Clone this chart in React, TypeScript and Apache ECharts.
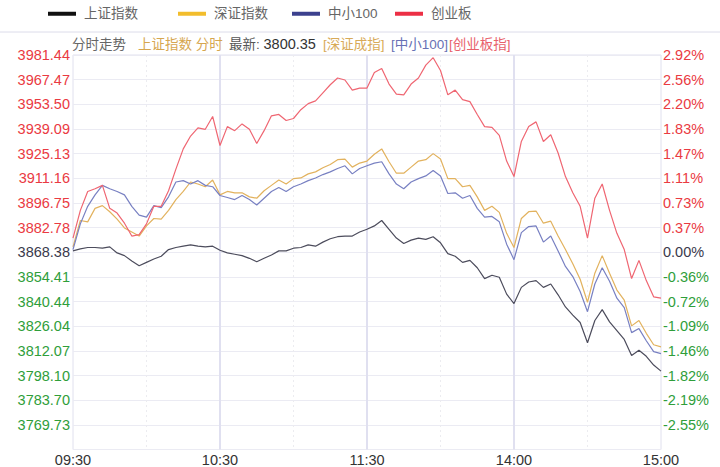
import React, { useEffect, useRef } from "react";
import * as echarts from "echarts";

// ---- data (percent change from previous close, 3-minute samples 09:30 → 15:00) ----
const seriesNames = ["上证指数", "深证指数", "中小100", "创业板"];

const shData = [
  0.02, 0.05, 0.07, 0.07, 0.06, 0.08, -0.01, -0.05, -0.13, -0.2,
  -0.15, -0.1, -0.06, 0.04, 0.07, 0.09, 0.11, 0.09, 0.08, 0.09,
  0.03, -0.01, -0.03, -0.05, -0.09, -0.14, -0.09, -0.04, 0.02, 0.02,
  0.06, 0.07, 0.11, 0.09, 0.15, 0.2, 0.23, 0.24, 0.24, 0.3,
  0.34, 0.39, 0.47, 0.34, 0.21, 0.13, 0.18, 0.21, 0.19, 0.23,
  0.14, -0.02, -0.06, -0.15, -0.12, -0.23, -0.39, -0.34, -0.37, -0.62,
  -0.76, -0.52, -0.44, -0.42, -0.52, -0.47, -0.63, -0.81, -0.93, -1.04,
  -1.34, -1.01, -0.85, -1.03, -1.16, -1.29, -1.53, -1.45, -1.54, -1.67,
  -1.76,
];

const szData = [
  0.08, 0.47, 0.45, 0.65, 0.69, 0.6, 0.49, 0.36, 0.3, 0.24,
  0.39, 0.5, 0.49, 0.62, 0.78, 0.9, 1.04, 1.01, 0.97, 1.07,
  0.85, 0.9, 0.88, 0.88, 0.82, 0.8, 0.91, 0.99, 1.07, 1.01,
  1.09, 1.1, 1.16, 1.19, 1.25, 1.3, 1.37, 1.38, 1.26, 1.32,
  1.35, 1.45, 1.53, 1.34, 1.17, 1.17, 1.26, 1.35, 1.37, 1.46,
  1.38, 1.09, 1.09, 0.97, 0.99, 0.82, 0.62, 0.68, 0.59, 0.28,
  0.07, 0.5, 0.6, 0.61, 0.43, 0.46, 0.24, 0.04, -0.17, -0.4,
  -0.74, -0.31, -0.05, -0.31, -0.56, -0.71, -1.09, -1.01, -1.2, -1.37,
  -1.4,
];

const zxData = [
  0.04, 0.42, 0.68, 0.85, 0.99, 0.94, 0.9, 0.85, 0.68, 0.55,
  0.52, 0.69, 0.66, 0.82, 1.04, 1.06, 1.01, 1.06, 0.99, 0.97,
  0.84, 0.81, 0.78, 0.84, 0.78, 0.7, 0.8, 0.9, 0.96, 0.9,
  0.97, 1.01, 1.06, 1.1, 1.15, 1.19, 1.24, 1.28, 1.16, 1.24,
  1.28, 1.32, 1.34, 1.16, 1.01, 0.94, 1.04, 1.09, 1.13, 1.21,
  1.13, 0.87, 0.88, 0.8, 0.84, 0.65, 0.52, 0.53, 0.45, 0.12,
  -0.11, 0.29, 0.38, 0.39, 0.15, 0.24, 0.02, -0.21, -0.36, -0.58,
  -0.88, -0.47, -0.23, -0.43, -0.68, -0.82, -1.19, -1.13, -1.31, -1.47,
  -1.5,
];

const cyData = [
  0.21, 0.62, 0.9, 0.94, 0.99, 0.65, 0.58, 0.43, 0.24, 0.26,
  0.42, 0.68, 0.68, 0.91, 1.23, 1.53, 1.72, 1.84, 1.82, 2.01,
  1.58, 1.86, 1.8, 1.9, 1.82, 1.61, 1.8, 2.02, 2.04, 1.95,
  1.98, 2.11, 2.2, 2.24, 2.36, 2.48, 2.58, 2.55, 2.4, 2.43,
  2.43, 2.66, 2.72, 2.49, 2.34, 2.33, 2.49, 2.58, 2.77, 2.88,
  2.69, 2.33, 2.4, 2.26, 2.23, 2.04, 1.86, 1.85, 1.73, 1.35,
  1.12, 1.64, 1.86, 1.93, 1.64, 1.74, 1.47, 1.12, 0.88, 0.68,
  0.21, 0.8, 1.01, 0.62, 0.28, 0.04, -0.39, -0.12, -0.42, -0.66,
  -0.68,
];

const leftLabels = [
  "3981.44", "3967.47", "3953.50", "3939.09", "3925.13", "3911.16", "3896.75", "3882.78",
  "3868.38",
  "3854.41", "3840.44", "3826.04", "3812.07", "3798.10", "3783.70", "3769.73", "",
];
const rightLabels = [
  "2.92%", "2.56%", "2.20%", "1.83%", "1.47%", "1.11%", "0.73%", "0.37%",
  "0.00%",
  "-0.36%", "-0.72%", "-1.09%", "-1.46%", "-1.82%", "-2.19%", "-2.55%", "",
];

const latestValue = "3800.35";

// axis range (percent)
const Y_MAX = 2.92;
const Y_STEP = 0.365;

// time categories: 3-minute steps, morning 09:30-11:30 then 13:00-15:00 (11:30 = 13:00)
const STEP_MIN = 3;
function buildTimes(): string[] {
  const out: string[] = [];
  const n = 240 / STEP_MIN;
  for (let i = 0; i <= n; i++) {
    const m = i * STEP_MIN;
    const t = m <= 120 ? 9 * 60 + 30 + m : 13 * 60 + (m - 120);
    const hh = String(Math.floor(t / 60)).padStart(2, "0");
    const mm = String(t % 60).padStart(2, "0");
    out.push(`${hh}:${mm}`);
  }
  return out;
}
const times = buildTimes();
const HOUR_IDX = 60 / STEP_MIN;
const HALF_IDX = 30 / STEP_MIN;

const FONT = "'Liberation Sans', Arial, 'Noto Sans CJK SC', sans-serif";

const lineColors = ["#4c4c5c", "#e2b25e", "#7880c2", "#ef6672"];
const legendColors = ["#111111", "#f2bd2c", "#3c418e", "#ec2f45"];
const legendLefts = [43, 173, 287, 390];

function labelIndex(v: number) {
  return Math.round((Y_MAX - v) / Y_STEP);
}
function richKey(i: number) {
  return i < 8 ? "up" : i === 8 ? "flat" : "down";
}
const axisRich = {
  up: { color: "#ea3a42", fontSize: 14.5, fontFamily: FONT },
  flat: { color: "#3a3a4c", fontSize: 14.5, fontFamily: FONT },
  down: { color: "#2f9e3a", fontSize: 14.5, fontFamily: FONT },
};

export default function App() {
  const ref = useRef<HTMLDivElement>(null);

  useEffect(() => {
    if (!ref.current) return;
    const chart = echarts.init(ref.current, undefined, { renderer: "svg" });
    const datasets = [shData, szData, zxData, cyData];

    const option: any = {
      animation: false,
      backgroundColor: "#ffffff",
      legend: seriesNames.map((name, i) => ({
        data: [{ name, itemStyle: { color: legendColors[i] } }],
        left: legendLefts[i],
        top: 2,
        icon: "rect",
        itemWidth: 28,
        itemHeight: 4,
        selectedMode: false,
        textStyle: { color: "#666", fontSize: 13.5, fontFamily: FONT, padding: [0, 0, 0, 3] },
      })),
      graphic: [
        {
          type: "line",
          shape: { x1: 0, y1: 32, x2: 720, y2: 32 },
          style: { stroke: "#dcdcea", lineWidth: 1 },
        },
        {
          type: "text",
          x: 72,
          y: 44,
          style: { text: "分时走势", fill: "#666", font: `13.5px ${FONT}`, textVerticalAlign: "middle" },
        },
        {
          type: "text",
          x: 138,
          y: 44,
          style: { text: "上证指数 分时", fill: "#d6a650", font: `13.5px ${FONT}`, textVerticalAlign: "middle" },
        },
        {
          type: "text",
          x: 229,
          y: 44,
          style: {
            text: "{a|最新: }{b|" + latestValue + "}",
            font: `13.5px ${FONT}`,
            textVerticalAlign: "middle",
            rich: {
              a: { fill: "#555", font: `13.5px ${FONT}` },
              b: { fill: "#333", font: `14.5px ${FONT}` },
            },
          },
        },
        {
          type: "text",
          x: 323,
          y: 44,
          style: { text: "[深证成指]", fill: "#d8aa58", font: `13.5px ${FONT}`, textVerticalAlign: "middle" },
        },
        {
          type: "text",
          x: 391,
          y: 44,
          style: { text: "[中小100]", fill: "#6870b4", font: `13.5px ${FONT}`, textVerticalAlign: "middle" },
        },
        {
          type: "text",
          x: 449,
          y: 44,
          style: { text: "[创业板指]", fill: "#e8616b", font: `13.5px ${FONT}`, textVerticalAlign: "middle" },
        },
      ],
      grid: {
        left: 73,
        right: 59,
        top: 55,
        bottom: 13,
        show: true,
        borderColor: "#e0e0ee",
        borderWidth: 1,
        backgroundColor: "transparent",
      },
      xAxis: [
        {
          type: "category",
          data: times,
          boundaryGap: false,
          axisLine: { show: false },
          axisTick: { show: false },
          axisLabel: {
            interval: (i: number) => i % HOUR_IDX === 0 && !(i === HOUR_IDX * 2 + HALF_IDX),
            color: "#333",
            fontSize: 14.5,
            fontFamily: FONT,
            margin: 3,
            showMinLabel: true,
            showMaxLabel: true,
            formatter: (v: string, i: number) => {
              // label each hour of trading (09:30, 10:30, 11:30, 14:00, 15:00)
              return i % HOUR_IDX === 0 ? v : "";
            },
          },
          splitLine: {
            show: true,
            interval: (i: number) => i % HOUR_IDX === 0 && i > 0 && i < times.length - 1,
            lineStyle: { color: "#e0e0f0", width: 2 },
          },
        },
        {
          type: "category",
          data: times,
          boundaryGap: false,
          position: "top",
          axisLine: { show: false },
          axisTick: { show: false },
          axisLabel: { show: false },
          splitLine: {
            show: true,
            interval: (i: number) => i % HALF_IDX === 0 && i % HOUR_IDX !== 0,
            lineStyle: { color: "#ececf0", width: 1, type: [2, 3] },
          },
        },
      ],
      yAxis: [
        {
          type: "value",
          position: "left",
          min: -Y_MAX,
          max: Y_MAX,
          interval: Y_STEP,
          axisLine: { show: false },
          axisTick: { show: false },
          splitLine: { show: true, lineStyle: { color: "#ebebf3", width: 1 } },
          axisLabel: {
            margin: 3,
            rich: axisRich,
            formatter: (v: number) => {
              const i = labelIndex(v);
              const t = leftLabels[i] ?? "";
              return t ? `{${richKey(i)}|${t}}` : "";
            },
          },
        },
        {
          type: "value",
          position: "right",
          min: -Y_MAX,
          max: Y_MAX,
          interval: Y_STEP,
          axisLine: { show: false },
          axisTick: { show: false },
          splitLine: { show: false },
          axisLabel: {
            margin: 2,
            rich: axisRich,
            formatter: (v: number) => {
              const i = labelIndex(v);
              const t = rightLabels[i] ?? "";
              return t ? `{${richKey(i)}|${t}}` : "";
            },
          },
        },
      ],
      series: seriesNames.map((name, i) => ({
        name,
        type: "line",
        xAxisIndex: 0,
        yAxisIndex: 0,
        data: datasets[i],
        showSymbol: false,
        symbol: "none",
        smooth: false,
        itemStyle: { color: legendColors[i] },
        lineStyle: { color: lineColors[i], width: 1.2 },
      })),
    };

    chart.setOption(option);
    return () => chart.dispose();
  }, []);

  return (
    <div
      ref={ref}
      style={{ position: "fixed", left: 0, top: 0, width: 720, height: 467 }}
    />
  );
}
